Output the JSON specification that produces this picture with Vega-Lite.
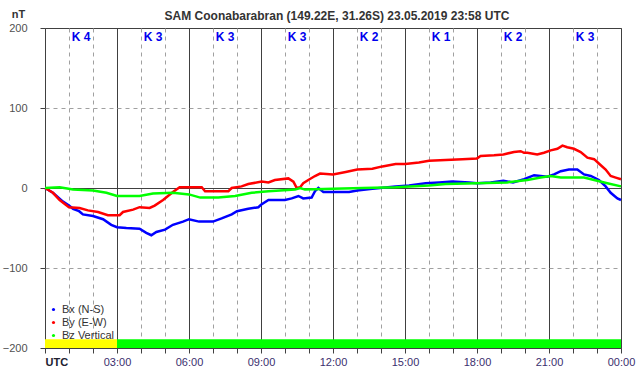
{
  "$schema": "https://vega.github.io/schema/vega-lite/v6.json",
  "width": 576,
  "height": 320,
  "autosize": {"type": "none"},
  "padding": {"left": 45, "top": 28, "right": 21, "bottom": 28},
  "background": "white",
  "config": {
    "view": {"stroke": "#404040", "strokeWidth": 1},
    "font": "Liberation Sans"
  },
  "title": {
    "text": "SAM Coonabarabran (149.22E, 31.26S) 23.05.2019 23:58 UTC",
    "fontSize": 12,
    "fontWeight": "bold",
    "color": "#333333",
    "font": "Liberation Sans",
    "offset": 8,
    "dy": 23,
    "dx": 4,
    "anchor": "middle"
  },
  "resolve": {"axis": {"x": "independent"}},
  "datasets": {
    "mag": [
      {"t": 0, "c": "Bx (N-S)", "v": 0}, {"t": 0.33, "c": "Bx (N-S)", "v": -6}, {"t": 0.75, "c": "Bx (N-S)", "v": -17}, {"t": 1, "c": "Bx (N-S)", "v": -22}, {"t": 1.17, "c": "Bx (N-S)", "v": -26}, {"t": 1.42, "c": "Bx (N-S)", "v": -29}, {"t": 1.58, "c": "Bx (N-S)", "v": -33}, {"t": 2, "c": "Bx (N-S)", "v": -35}, {"t": 2.42, "c": "Bx (N-S)", "v": -39}, {"t": 2.76, "c": "Bx (N-S)", "v": -46}, {"t": 3, "c": "Bx (N-S)", "v": -49}, {"t": 3.39, "c": "Bx (N-S)", "v": -50}, {"t": 3.94, "c": "Bx (N-S)", "v": -51}, {"t": 4.22, "c": "Bx (N-S)", "v": -56}, {"t": 4.43, "c": "Bx (N-S)", "v": -59}, {"t": 4.64, "c": "Bx (N-S)", "v": -55}, {"t": 5, "c": "Bx (N-S)", "v": -52}, {"t": 5.33, "c": "Bx (N-S)", "v": -46}, {"t": 5.75, "c": "Bx (N-S)", "v": -42}, {"t": 6, "c": "Bx (N-S)", "v": -39}, {"t": 6.42, "c": "Bx (N-S)", "v": -42}, {"t": 7, "c": "Bx (N-S)", "v": -42}, {"t": 7.36, "c": "Bx (N-S)", "v": -38}, {"t": 7.78, "c": "Bx (N-S)", "v": -33}, {"t": 8, "c": "Bx (N-S)", "v": -29}, {"t": 8.47, "c": "Bx (N-S)", "v": -26}, {"t": 8.89, "c": "Bx (N-S)", "v": -24}, {"t": 9, "c": "Bx (N-S)", "v": -21}, {"t": 9.31, "c": "Bx (N-S)", "v": -15}, {"t": 9.58, "c": "Bx (N-S)", "v": -15}, {"t": 10, "c": "Bx (N-S)", "v": -15}, {"t": 10.28, "c": "Bx (N-S)", "v": -13}, {"t": 10.56, "c": "Bx (N-S)", "v": -10}, {"t": 10.76, "c": "Bx (N-S)", "v": -13}, {"t": 11.11, "c": "Bx (N-S)", "v": -12}, {"t": 11.25, "c": "Bx (N-S)", "v": -4}, {"t": 11.39, "c": "Bx (N-S)", "v": 0}, {"t": 11.6, "c": "Bx (N-S)", "v": -5}, {"t": 12, "c": "Bx (N-S)", "v": -5}, {"t": 12.67, "c": "Bx (N-S)", "v": -5}, {"t": 13.01, "c": "Bx (N-S)", "v": -3}, {"t": 13.64, "c": "Bx (N-S)", "v": -1}, {"t": 14.61, "c": "Bx (N-S)", "v": 2}, {"t": 15.17, "c": "Bx (N-S)", "v": 3}, {"t": 15.86, "c": "Bx (N-S)", "v": 6}, {"t": 16.42, "c": "Bx (N-S)", "v": 7}, {"t": 16.97, "c": "Bx (N-S)", "v": 8}, {"t": 17.67, "c": "Bx (N-S)", "v": 7}, {"t": 18, "c": "Bx (N-S)", "v": 6}, {"t": 18.57, "c": "Bx (N-S)", "v": 7}, {"t": 19.1, "c": "Bx (N-S)", "v": 9}, {"t": 19.5, "c": "Bx (N-S)", "v": 7}, {"t": 19.96, "c": "Bx (N-S)", "v": 11}, {"t": 20.38, "c": "Bx (N-S)", "v": 16}, {"t": 20.93, "c": "Bx (N-S)", "v": 14}, {"t": 21.21, "c": "Bx (N-S)", "v": 17}, {"t": 21.49, "c": "Bx (N-S)", "v": 21}, {"t": 21.83, "c": "Bx (N-S)", "v": 23}, {"t": 22.18, "c": "Bx (N-S)", "v": 23}, {"t": 22.46, "c": "Bx (N-S)", "v": 17}, {"t": 22.74, "c": "Bx (N-S)", "v": 15}, {"t": 23.08, "c": "Bx (N-S)", "v": 10}, {"t": 23.36, "c": "Bx (N-S)", "v": 2}, {"t": 23.57, "c": "Bx (N-S)", "v": -6}, {"t": 23.85, "c": "Bx (N-S)", "v": -13}, {"t": 24, "c": "Bx (N-S)", "v": -15},
      {"t": 0, "c": "By (E-W)", "v": 0}, {"t": 0.33, "c": "By (E-W)", "v": -6}, {"t": 0.61, "c": "By (E-W)", "v": -15}, {"t": 1, "c": "By (E-W)", "v": -24}, {"t": 1.44, "c": "By (E-W)", "v": -25}, {"t": 1.79, "c": "By (E-W)", "v": -28}, {"t": 2.21, "c": "By (E-W)", "v": -30}, {"t": 2.62, "c": "By (E-W)", "v": -34}, {"t": 3.11, "c": "By (E-W)", "v": -34}, {"t": 3.25, "c": "By (E-W)", "v": -30}, {"t": 3.67, "c": "By (E-W)", "v": -27}, {"t": 3.94, "c": "By (E-W)", "v": -24}, {"t": 4.36, "c": "By (E-W)", "v": -25}, {"t": 4.57, "c": "By (E-W)", "v": -22}, {"t": 4.92, "c": "By (E-W)", "v": -15}, {"t": 5.33, "c": "By (E-W)", "v": -5}, {"t": 5.61, "c": "By (E-W)", "v": 1}, {"t": 6, "c": "By (E-W)", "v": 1}, {"t": 6.53, "c": "By (E-W)", "v": 1}, {"t": 6.67, "c": "By (E-W)", "v": -4}, {"t": 7, "c": "By (E-W)", "v": -4}, {"t": 7.64, "c": "By (E-W)", "v": -4}, {"t": 7.78, "c": "By (E-W)", "v": 0}, {"t": 8.19, "c": "By (E-W)", "v": 2}, {"t": 8.47, "c": "By (E-W)", "v": 5}, {"t": 9.03, "c": "By (E-W)", "v": 8}, {"t": 9.31, "c": "By (E-W)", "v": 7}, {"t": 9.58, "c": "By (E-W)", "v": 10}, {"t": 10.14, "c": "By (E-W)", "v": 12}, {"t": 10.35, "c": "By (E-W)", "v": 8}, {"t": 10.49, "c": "By (E-W)", "v": 0}, {"t": 10.63, "c": "By (E-W)", "v": 1}, {"t": 10.76, "c": "By (E-W)", "v": 6}, {"t": 10.97, "c": "By (E-W)", "v": 10}, {"t": 11.25, "c": "By (E-W)", "v": 15}, {"t": 11.46, "c": "By (E-W)", "v": 18}, {"t": 12, "c": "By (E-W)", "v": 17}, {"t": 12.53, "c": "By (E-W)", "v": 20}, {"t": 13.01, "c": "By (E-W)", "v": 23}, {"t": 13.64, "c": "By (E-W)", "v": 24}, {"t": 14.06, "c": "By (E-W)", "v": 27}, {"t": 14.61, "c": "By (E-W)", "v": 30}, {"t": 15.01, "c": "By (E-W)", "v": 30}, {"t": 15.58, "c": "By (E-W)", "v": 32}, {"t": 16, "c": "By (E-W)", "v": 34}, {"t": 16.69, "c": "By (E-W)", "v": 35}, {"t": 17.39, "c": "By (E-W)", "v": 36}, {"t": 18, "c": "By (E-W)", "v": 37}, {"t": 18.15, "c": "By (E-W)", "v": 40}, {"t": 18.71, "c": "By (E-W)", "v": 41}, {"t": 19.1, "c": "By (E-W)", "v": 42}, {"t": 19.54, "c": "By (E-W)", "v": 45}, {"t": 19.82, "c": "By (E-W)", "v": 46}, {"t": 19.96, "c": "By (E-W)", "v": 44}, {"t": 20.1, "c": "By (E-W)", "v": 44}, {"t": 20.51, "c": "By (E-W)", "v": 42}, {"t": 20.79, "c": "By (E-W)", "v": 44}, {"t": 21.07, "c": "By (E-W)", "v": 47}, {"t": 21.35, "c": "By (E-W)", "v": 49}, {"t": 21.56, "c": "By (E-W)", "v": 53}, {"t": 21.76, "c": "By (E-W)", "v": 51}, {"t": 22.04, "c": "By (E-W)", "v": 49}, {"t": 22.32, "c": "By (E-W)", "v": 45}, {"t": 22.6, "c": "By (E-W)", "v": 38}, {"t": 22.88, "c": "By (E-W)", "v": 36}, {"t": 23.1, "c": "By (E-W)", "v": 30}, {"t": 23.36, "c": "By (E-W)", "v": 23}, {"t": 23.57, "c": "By (E-W)", "v": 15}, {"t": 23.78, "c": "By (E-W)", "v": 13}, {"t": 24, "c": "By (E-W)", "v": 11},
      {"t": 0, "c": "Bz Vertical", "v": 0}, {"t": 0.61, "c": "Bz Vertical", "v": 1}, {"t": 1.17, "c": "Bz Vertical", "v": -2}, {"t": 2, "c": "Bz Vertical", "v": -3}, {"t": 2.56, "c": "Bz Vertical", "v": -6}, {"t": 3, "c": "Bz Vertical", "v": -10}, {"t": 3.94, "c": "Bz Vertical", "v": -10}, {"t": 4.5, "c": "Bz Vertical", "v": -7}, {"t": 5.33, "c": "Bz Vertical", "v": -6}, {"t": 6, "c": "Bz Vertical", "v": -8}, {"t": 6.47, "c": "Bz Vertical", "v": -12}, {"t": 7.22, "c": "Bz Vertical", "v": -12}, {"t": 7.92, "c": "Bz Vertical", "v": -10}, {"t": 8.61, "c": "Bz Vertical", "v": -6}, {"t": 9.31, "c": "Bz Vertical", "v": -4}, {"t": 10.42, "c": "Bz Vertical", "v": -2}, {"t": 10.63, "c": "Bz Vertical", "v": 0}, {"t": 10.83, "c": "Bz Vertical", "v": -2}, {"t": 12, "c": "Bz Vertical", "v": -1}, {"t": 13.25, "c": "Bz Vertical", "v": 0}, {"t": 14.61, "c": "Bz Vertical", "v": 1}, {"t": 16, "c": "Bz Vertical", "v": 3}, {"t": 16.69, "c": "Bz Vertical", "v": 5}, {"t": 18, "c": "Bz Vertical", "v": 6}, {"t": 19.26, "c": "Bz Vertical", "v": 7}, {"t": 20.1, "c": "Bz Vertical", "v": 10}, {"t": 20.65, "c": "Bz Vertical", "v": 13}, {"t": 21.07, "c": "Bz Vertical", "v": 15}, {"t": 21.49, "c": "Bz Vertical", "v": 13}, {"t": 22.46, "c": "Bz Vertical", "v": 13}, {"t": 22.88, "c": "Bz Vertical", "v": 10}, {"t": 23.43, "c": "Bz Vertical", "v": 6}, {"t": 24, "c": "Bz Vertical", "v": 2}
    ],
    "kidx": [
      {"start": 0, "end": 3, "mid": 1.5, "K": "K 4"},
      {"start": 3, "end": 6, "mid": 4.5, "K": "K 3"},
      {"start": 6, "end": 9, "mid": 7.5, "K": "K 3"},
      {"start": 9, "end": 12, "mid": 10.5, "K": "K 3"},
      {"start": 12, "end": 15, "mid": 13.5, "K": "K 2"},
      {"start": 15, "end": 18, "mid": 16.5, "K": "K 1"},
      {"start": 18, "end": 21, "mid": 19.5, "K": "K 2"},
      {"start": 21, "end": 24, "mid": 22.5, "K": "K 3"}
    ]
  },
  "layer": [
    {
      "data": {"name": "kidx"},
      "mark": {"type": "rect"},
      "encoding": {
        "x": {
          "field": "start", "type": "quantitative",
          "scale": {"domain": [0, 24], "nice": false, "zero": false},
          "axis": {
            "orient": "bottom",
            "values": [1,2,4,5,7,8,10,11,13,14,16,17,19,20,22,23],
            "title": null,
            "grid": true,
            "gridColor": "#a0a0a0",
            "gridDash": [4, 4],
            "gridWidth": 1,
            "domain": false,
            "ticks": true,
            "tickColor": "#404040",
            "tickSize": 5,
            "labels": false
          }
        },
        "x2": {"field": "end"},
        "y": {
          "datum": -200, "type": "quantitative",
          "scale": {"domain": [-200, 200], "nice": false, "zero": false},
          "axis": {
            "values": [-200,-150,-100,-50,0,50,100,150,200],
            "title": "nT",
            "titleAngle": 0,
            "titleX": -27,
            "titleY": -14,
            "titleAlign": "center",
            "titleBaseline": "middle",
            "titleFont": "Liberation Sans",
            "titleFontSize": 11,
            "titleFontWeight": "bold",
            "titleColor": "#333333",
            "grid": true,
            "gridColor": {"condition": {"test": "datum.value == 0", "value": "#404040"}, "value": "#a0a0a0"},
            "gridDash": {"condition": {"test": "datum.value == 0", "value": []}, "value": [4, 4]},
            "gridOpacity": {"condition": {"test": "abs(datum.value) == 200", "value": 0}, "value": 1},
            "domain": false,
            "tickColor": "#404040",
            "tickSize": 5,
            "labelFont": "Liberation Sans",
            "labelFontSize": 11,
            "labelColor": "#505050",
            "labelPadding": 13
          }
        },
        "y2": {"datum": -189},
        "fill": {
          "field": "K", "type": "nominal",
          "scale": {"domain": ["K 4", "K 3", "K 2", "K 1"], "range": ["#ffff00", "#00ff00", "#00ff00", "#00ff00"]},
          "legend": null
        }
      }
    },
    {
      "data": {"name": "kidx"},
      "mark": {"type": "text", "font": "Liberation Sans", "fontSize": 12, "fontWeight": "bold", "color": "#0000ee", "baseline": "middle", "align": "center"},
      "encoding": {
        "x": {
          "field": "mid", "type": "quantitative",
          "axis": {
            "orient": "bottom",
            "values": [0, 3, 6, 9, 12, 15, 18, 21, 24],
            "title": null,
            "grid": true,
            "gridColor": "#404040",
            "gridWidth": 1,
            "domain": false,
            "ticks": true,
            "tickColor": "#404040",
            "tickSize": 5,
            "labelExpr": "datum.value == 0 ? 'UTC' : (datum.value == 24 ? '00:00' : (datum.value < 10 ? '0' : '') + datum.value + ':00')",
            "labelFont": "Liberation Sans",
            "labelFontSize": 11,
            "labelColor": {"condition": {"test": "datum.value == 0", "value": "#202030"}, "value": "#3b2f6e"},
            "labelFontWeight": {"condition": {"test": "datum.value == 0", "value": "bold"}, "value": "normal"},
            "labelAlign": {"condition": {"test": "datum.value == 0", "value": "left"}, "value": "center"},
            "labelPadding": 3,
            "labelOverlap": false,
            "labelFlush": false
          }
        },
        "y": {"datum": 189},
        "text": {"field": "K"}
      }
    },
    {
      "data": {"name": "mag"},
      "mark": {"type": "line", "strokeWidth": 2.5, "interpolate": "linear"},
      "encoding": {
        "x": {"field": "t", "type": "quantitative", "axis": null},
        "y": {"field": "v", "type": "quantitative"},
        "color": {
          "field": "c", "type": "nominal",
          "scale": {"domain": ["Bx (N-S)", "By (E-W)", "Bz Vertical"], "range": ["#0000ff", "#ff0000", "#00ff00"]},
          "legend": {
            "title": null,
            "orient": "none",
            "legendX": 3,
            "legendY": 276,
            "padding": 0,
            "symbolType": "circle",
            "symbolSize": 10,
            "symbolStrokeWidth": 0,
            "labelFont": "Liberation Sans",
            "labelFontSize": 11,
            "labelColor": "#333333",
            "labelOffset": 3,
            "rowPadding": 1,
            "encode": {"symbols": {"update": {"fill": {"scale": "color", "field": "value"}}}}
          }
        }
      }
    },
    {
      "mark": {"type": "text", "font": "Liberation Sans", "fontSize": 15, "fontStyle": "italic", "fontWeight": "bold", "color": "#9a9a9a", "align": "center", "baseline": "middle"},
      "encoding": {
        "x": {"datum": 21.65, "axis": null},
        "y": {"datum": -170},
        "text": {"value": "SAM"}
      }
    }
  ]
}
